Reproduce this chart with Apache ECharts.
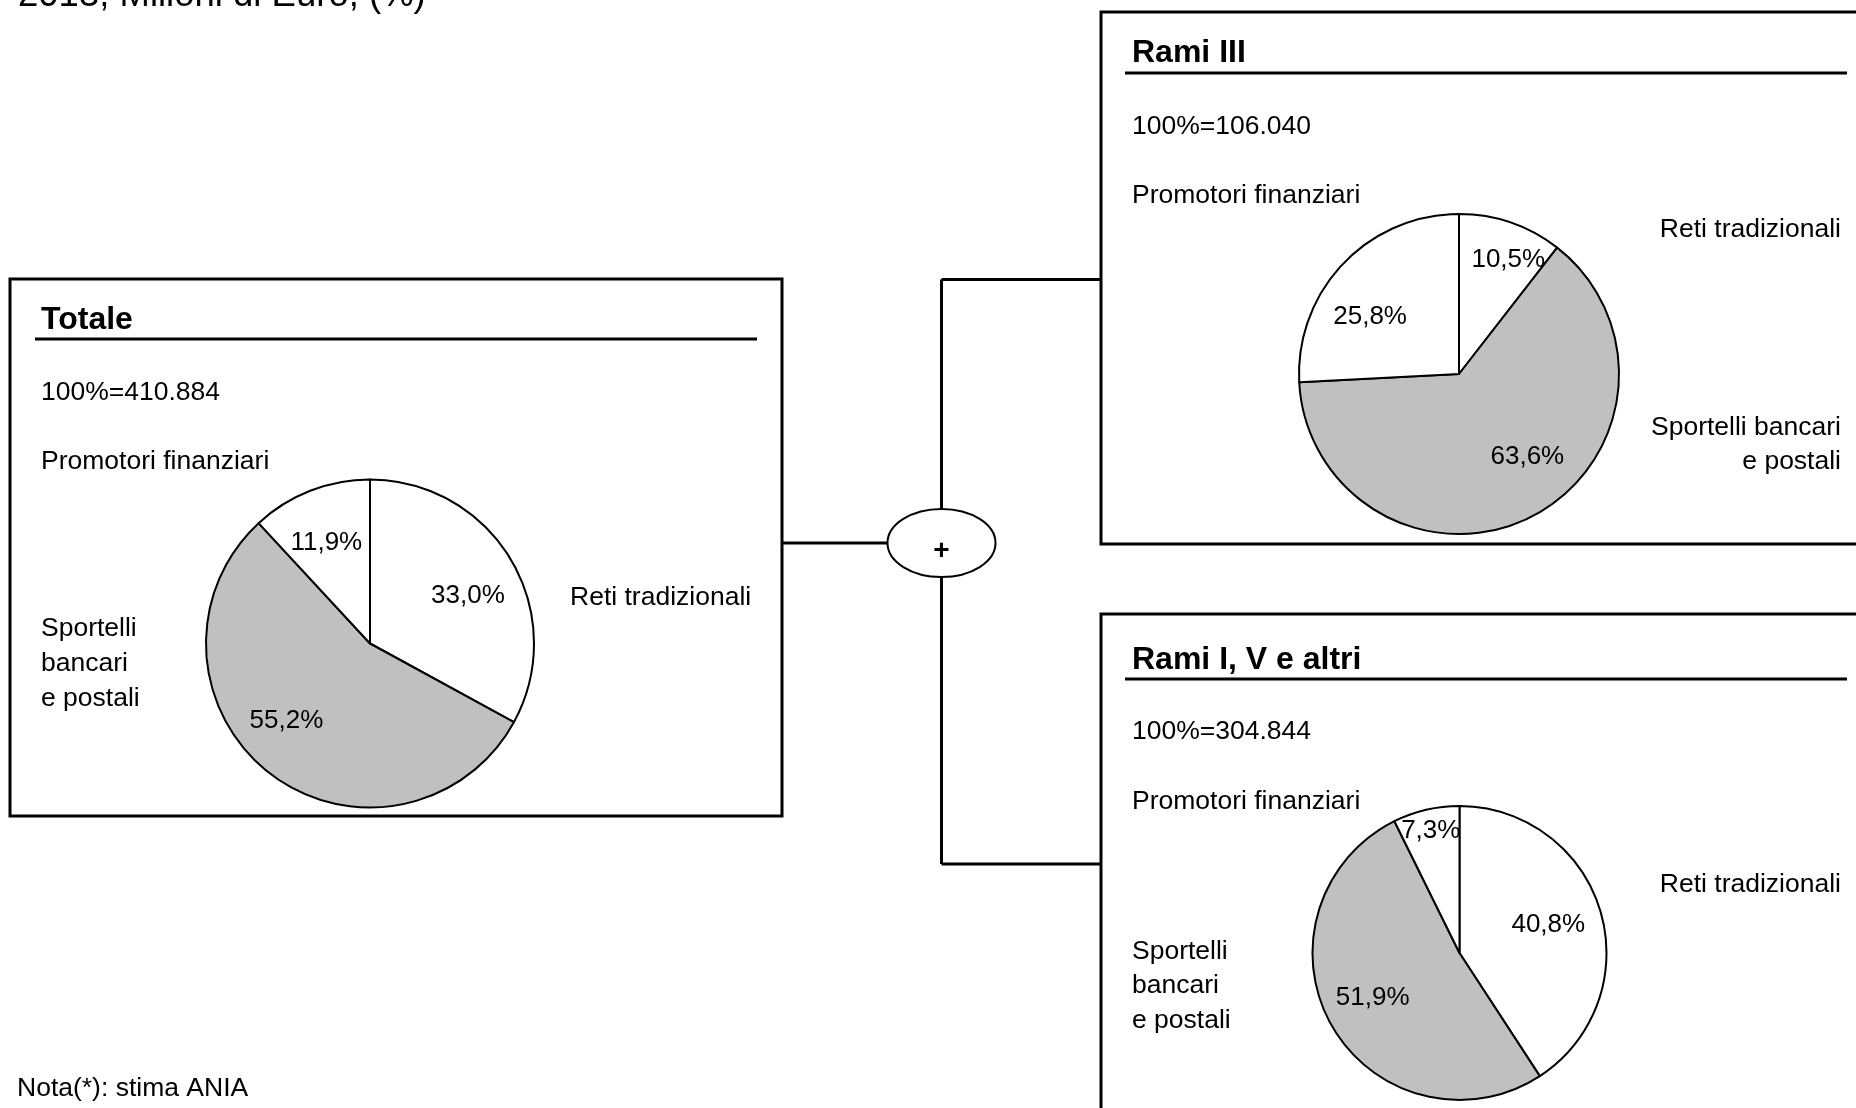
<!DOCTYPE html>
<html>
<head>
<meta charset="utf-8">
<script src="https://cdn.jsdelivr.net/npm/echarts@6/dist/echarts.min.js"></script>
<style>
  html, body { margin: 0; padding: 0; background: #ffffff; }
  #chart { width: 1856px; height: 1108px; }
</style>
</head>
<body>
<div id="chart"></div>
<script>
// Distribution channels, share of premiums (%)
const channels = ['Reti tradizionali', 'Sportelli bancari e postali', 'Promotori finanziari'];
const totaleShares = [33.0, 55.2, 11.9];
const ramiIIIShares = [10.5, 63.6, 25.8];
const ramiIVShares = [40.8, 51.9, 7.3];
const panelTitles = ['Totale', 'Rami III', 'Rami I, V e altri'];
const panelTotals = ['410.884', '106.040', '304.844'];
const headline = '2013, Milioni di Euro, (%)';
const footnote = 'Nota(*): stima ANIA';

const FONT = "'Liberation Sans', Arial, Helvetica, sans-serif";
const BODY = 26.5;
const sliceColors = ['#ffffff', '#c0c0c0', '#ffffff'];

// Geometry of the three panels
const panels = [
  {
    values: totaleShares, title: panelTitles[0], total: panelTotals[0],
    box: [10, 279, 772, 537], x0: 41, rule: [35, 757, 339],
    titleY: 320, totalY: 392.5, promY: 461.5,
    center: [370, 643.5], r: 164, labelRadius: 0.68,
    nudge: [[2, 9], [-15, -11], [-3, 3]],
    reti: { x: 570, y: 597.5, align: 'left' },
    sport: { x: 41, y: 664, align: 'left', lh: 35, narrow: true }
  },
  {
    values: ramiIIIShares, title: panelTitles[1], total: panelTotals[1],
    box: [1101, 12, 800, 532], x0: 1132, rule: [1125, 1847, 73],
    titleY: 53.5, totalY: 126.5, promY: 195.5,
    center: [1459, 374], r: 160, labelRadius: 0.68,
    nudge: [[14, -11], [18, -14], [-10, 18]],
    reti: { x: 1841, y: 229.5, align: 'right' },
    sport: { x: 1841, y: 444.5, align: 'right', lh: 34, narrow: false }
  },
  {
    values: ramiIVShares, title: panelTitles[2], total: panelTotals[2],
    box: [1101, 614, 800, 600], x0: 1132, rule: [1125, 1847, 679],
    titleY: 660.5, totalY: 732, promY: 802,
    center: [1459.5, 953], r: 147, labelRadius: 0.68,
    nudge: [[-7, 0], [0, -5], [-6, -25]],
    reti: { x: 1841, y: 884.5, align: 'right' },
    sport: { x: 1132, y: 986, align: 'left', lh: 34.5, narrow: true }
  }
];

function fmtPct(v) {
  return v.toFixed(1).replace('.', ',') + '%';
}

function wrapChannel(name, narrow) {
  return narrow ? name.replace(/ (?=bancari|e )/g, '\n') : name.replace(/ (?=e )/, '\n');
}

// Places each percentage label along the slice bisector
function labelPlacer(p) {
  const total = p.values.reduce((a, b) => a + b, 0);
  const mids = [];
  let acc = 0;
  p.values.forEach(v => { mids.push((acc + v / 2) / total * Math.PI * 2); acc += v; });
  return function (params) {
    const i = params.dataIndex;
    const rr = p.r * p.labelRadius;
    const n = p.nudge[i];
    return {
      x: p.center[0] + rr * Math.sin(mids[i]) + n[0],
      y: p.center[1] - rr * Math.cos(mids[i]) + n[1],
      align: 'center',
      verticalAlign: 'middle'
    };
  };
}

function text(str, x, y, opts) {
  opts = opts || {};
  return {
    type: 'text', x: x, y: y, silent: true, z: 10,
    style: {
      text: str,
      fill: '#000',
      font: (opts.bold ? 'bold ' : '') + (opts.size || BODY) + 'px ' + FONT,
      align: opts.align || 'left',
      verticalAlign: 'middle',
      lineHeight: opts.lh
    }
  };
}

function line(x1, y1, x2, y2, w) {
  return {
    type: 'line', silent: true, z: 5,
    shape: { x1: x1, y1: y1, x2: x2, y2: y2 },
    style: { stroke: '#000', lineWidth: w || 3 }
  };
}

const graphics = [];
graphics.push(text(headline, 18, -4, { size: 36.5 }));
graphics.push(text(footnote, 17, 1089));

panels.forEach(p => {
  graphics.push({
    type: 'rect', silent: true, z: 5,
    shape: { x: p.box[0], y: p.box[1], width: p.box[2], height: p.box[3] },
    style: { fill: 'none', stroke: '#000', lineWidth: 3 }
  });
  graphics.push(line(p.rule[0], p.rule[2], p.rule[1], p.rule[2], 3));
  graphics.push(text(p.title, p.x0, p.titleY, { bold: true, size: 32 }));
  graphics.push(text('100%=' + p.total, p.x0, p.totalY));
  graphics.push(text(channels[2], p.x0, p.promY));
  graphics.push(text(channels[0], p.reti.x, p.reti.y, { align: p.reti.align }));
  graphics.push(text(wrapChannel(channels[1], p.sport.narrow), p.sport.x, p.sport.y,
    { align: p.sport.align, lh: p.sport.lh }));
});

// Connector: Totale = Rami III + Rami I, V e altri
const nodeX = 941.5, nodeY = 543;
graphics.push(line(782, nodeY, 887, nodeY, 3));
graphics.push(line(nodeX, 279.5, nodeX, 509, 3));
graphics.push(line(nodeX, 279.5, 1101, 279.5, 3));
graphics.push(line(nodeX, 577, nodeX, 864, 3));
graphics.push(line(nodeX, 864, 1101, 864, 3));
graphics.push({
  type: 'ellipse', silent: true, z: 6,
  shape: { cx: nodeX, cy: nodeY, rx: 54, ry: 34 },
  style: { fill: '#fff', stroke: '#000', lineWidth: 2 }
});
graphics.push(text('+', nodeX, 551, { bold: true, size: 28, align: 'center' }));

const series = panels.map(p => ({
  type: 'pie',
  center: p.center,
  radius: p.r,
  startAngle: 90,
  clockwise: true,
  silent: true,
  animation: false,
  avoidLabelOverlap: false,
  emphasis: { disabled: true },
  itemStyle: { borderColor: '#000', borderWidth: 2 },
  label: {
    show: true,
    position: 'inside',
    color: '#000',
    fontSize: 26,
    fontFamily: FONT,
    formatter: params => fmtPct(params.value)
  },
  labelLine: { show: false },
  labelLayout: labelPlacer(p),
  data: p.values.map((v, i) => ({
    name: channels[i],
    value: v,
    itemStyle: { color: sliceColors[i] }
  }))
}));

const chart = echarts.init(document.getElementById('chart'), null, { renderer: 'canvas' });
chart.setOption({
  backgroundColor: '#ffffff',
  animation: false,
  series: series,
  graphic: { elements: graphics }
});
</script>
</body>
</html>
